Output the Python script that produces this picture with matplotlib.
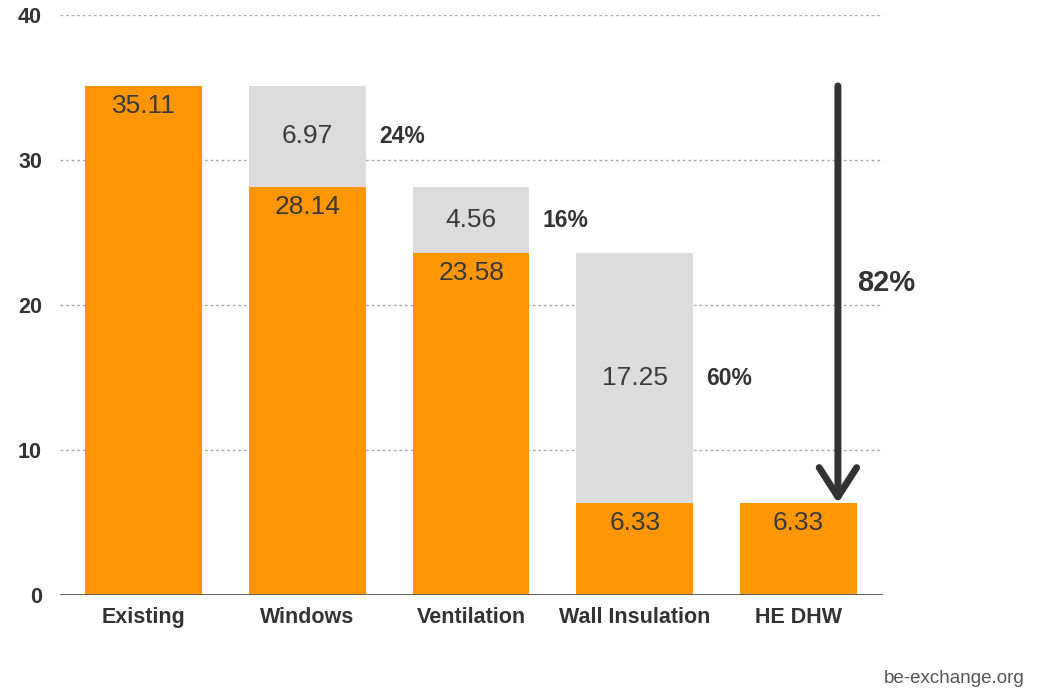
#!/usr/bin/env python3

import matplotlib
matplotlib.use('Agg')
import matplotlib.pyplot as plt

# Energy use after each retrofit step
categories = ['Existing', 'Windows', 'Ventilation', 'Wall Insulation', 'HE DHW']
remaining = [35.11, 28.14, 23.58, 6.33, 6.33]
saved = [0, 6.97, 4.56, 17.25, 0]
y_ticks = [0, 10, 20, 30, 40]
credit = 'be-exchange.org'

ORANGE = '#FF9500'
GREY = '#DCDCDC'
DARK = '#333333'

plt.rcParams['font.family'] = ['Liberation Sans', 'DejaVu Sans']

fig = plt.figure(figsize=(10.4, 6.88), dpi=100)
ax = fig.add_axes([0.0577, 0.1352, 0.7913, 0.843])

x = list(range(len(categories)))
width = 0.713
ax.bar(x, remaining, width=width, color=ORANGE, zorder=2)
ax.bar(x, saved, width=width, bottom=remaining, color=GREY, zorder=2)

total_saved = sum(saved)
for i in x:
    ax.text(i, remaining[i] - 1.4, '{:.2f}'.format(remaining[i]),
            ha='center', va='center', fontsize=19, color='#3a3a3a', zorder=3)
    if saved[i] > 0:
        ax.text(i, remaining[i] + saved[i] / 2, '{:.2f}'.format(saved[i]),
                ha='center', va='center', fontsize=19, color='#3a3a3a',
                zorder=3)
        pct = round(100 * saved[i] / total_saved)
        ax.text(i + width / 2 + 0.08, remaining[i] + saved[i] / 2,
                '{}%'.format(pct), ha='left', va='center', fontsize=16.5,
                fontweight='bold', color=DARK, zorder=3)

# overall reduction arrow on the last bar
last = len(categories) - 1
ax.annotate('', xy=(last + 0.24, remaining[last]),
            xytext=(last + 0.24, remaining[0]),
            arrowprops=dict(arrowstyle='->,head_length=0.7,head_width=0.45',
                            lw=5, color=DARK, shrinkA=0, shrinkB=0,
                            mutation_scale=30),
            zorder=4)
overall = round(100 * (remaining[0] - remaining[last]) / remaining[0])
ax.text(last + 0.36, 21.5, '{}%'.format(overall), ha='left', va='center',
        fontsize=21, fontweight='bold', color=DARK)

ax.set_xlim(-0.51, len(categories) - 0.485)
ax.set_ylim(0, 40)
ax.set_yticks(y_ticks)
ax.set_xticks(x)
ax.set_xticklabels(categories)

for y in y_ticks[1:]:
    ax.axhline(y, color='#aaaaaa', lw=1, ls=(0, (2, 2)), zorder=1)
ax.axhline(0, color='#555555', lw=1.3, zorder=3)

for side in ['top', 'right', 'left', 'bottom']:
    ax.spines[side].set_visible(False)
ax.tick_params(axis='both', length=0)
ax.tick_params(axis='y', pad=13)
ax.tick_params(axis='x', pad=9)
for lab in ax.get_yticklabels() + ax.get_xticklabels():
    lab.set_fontweight('bold')
    lab.set_fontsize(15.5)
    lab.set_color(DARK)

fig.text(0.9856, 0.0145, credit, ha='right', va='center', fontsize=13.5,
         color='#555555')

fig.savefig('out.png', dpi=100)
